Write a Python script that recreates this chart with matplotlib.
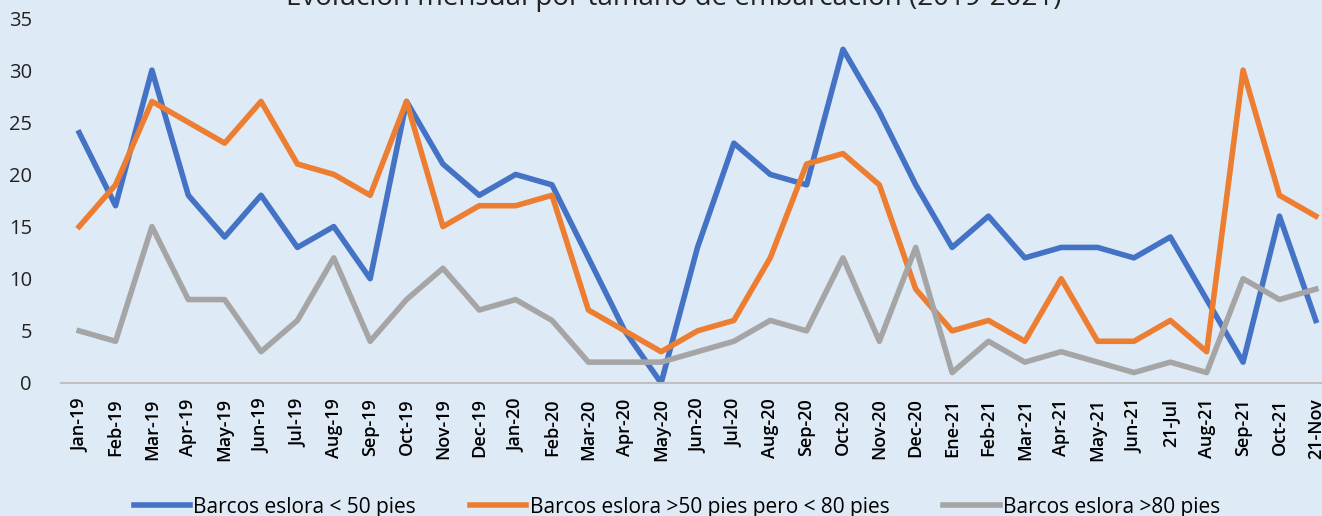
import numpy as np
import matplotlib
matplotlib.use('Agg')
import matplotlib.pyplot as plt

plt.rcParams['font.family'] = ['Open Sans', 'DejaVu Sans']

meses = ['Jan-19', 'Feb-19', 'Mar-19', 'Apr-19', 'May-19', 'Jun-19', 'Jul-19', 'Aug-19',
         'Sep-19', 'Oct-19', 'Nov-19', 'Dec-19', 'Jan-20', 'Feb-20', 'Mar-20', 'Apr-20',
         'May-20', 'Jun-20', 'Jul-20', 'Aug-20', 'Sep-20', 'Oct-20', 'Nov-20', 'Dec-20',
         'Ene-21', 'Feb-21', 'Mar-21', 'Apr-21', 'May-21', 'Jun-21', '21-Jul', 'Aug-21',
         'Sep-21', 'Oct-21', '21-Nov']

menos_50 = [24, 17, 30, 18, 14, 18, 13, 15, 10, 27, 21, 18, 20, 19, 12, 5, 0, 13, 23, 20,
            19, 32, 26, 19, 13, 16, 12, 13, 13, 12, 14, 8, 2, 16, 6]
entre_50_80 = [15, 19, 27, 25, 23, 27, 21, 20, 18, 27, 15, 17, 17, 18, 7, 5, 3, 5, 6, 12,
               21, 22, 19, 9, 5, 6, 4, 10, 4, 4, 6, 3, 30, 18, 16]
mas_80 = [5, 4, 15, 8, 8, 3, 6, 12, 4, 8, 11, 7, 8, 6, 2, 2, 2, 3, 4, 6,
          5, 12, 4, 13, 1, 4, 2, 3, 2, 1, 2, 1, 10, 8, 9]

fondo = '#DEEAF6'
W, H = 1322, 516

fig = plt.figure(figsize=(W / 100, H / 100), dpi=100, facecolor=fondo)
# el área de trazado se sale un poco por la derecha, como en el original
ax = fig.add_axes([61 / W, (H - 383) / H, 1273 / W, 365 / H])
ax.set_facecolor(fondo)

x = np.arange(len(meses))
ax.plot(x, menos_50, color='#4472C4', lw=4, label='Barcos eslora < 50 pies')
ax.plot(x, entre_50_80, color='#ED7D31', lw=4, label='Barcos eslora >50 pies pero < 80 pies')
ax.plot(x, mas_80, color='#A5A5A5', lw=4, label='Barcos eslora >80 pies')

ax.set_xlim(-0.5, len(meses) - 0.5)
ax.set_ylim(0, 35)
ax.set_yticks(range(0, 36, 5))
ax.set_xticks(x)
ax.set_xticklabels(meses, rotation=90, fontsize=13, fontweight='semibold', color='black')
ax.tick_params(axis='y', length=0, pad=21, labelsize=14.5, labelcolor='#222222')
ax.tick_params(axis='x', length=0, pad=11)

for lado in ['top', 'right', 'left']:
    ax.spines[lado].set_visible(False)
ax.spines['bottom'].set_color('#BFBFBF')
ax.spines['bottom'].set_linewidth(1.5)

fig.text(674 / W, 1 - 5 / H, 'Evolución mensual por tamaño de embarcación (2019-2021)',
         ha='center', va='baseline', fontsize=20, color='#222222')

fig.legend(loc='center', bbox_to_anchor=(677 / W, 1 - 507 / H), ncol=3, frameon=False,
           fontsize=15, handlelength=2.7, handletextpad=0.15, columnspacing=2.6,
           borderpad=0)

fig.savefig('out.png', dpi=100, facecolor=fondo)
